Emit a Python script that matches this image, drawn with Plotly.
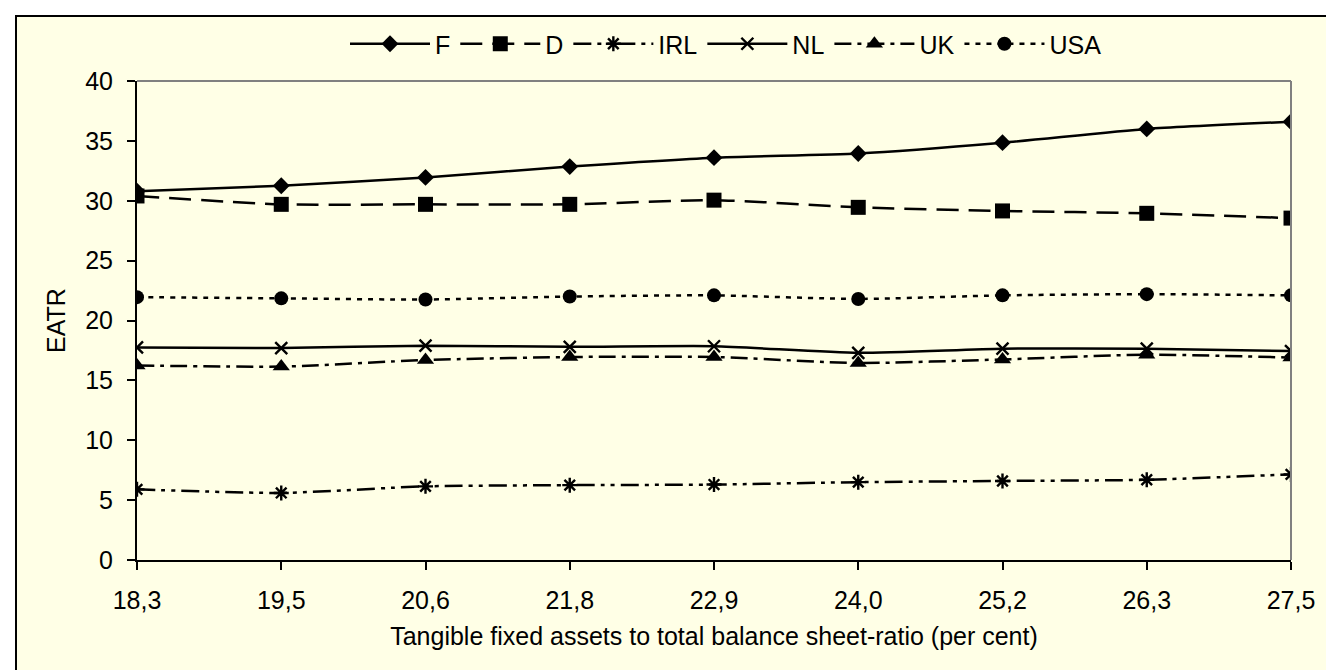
import plotly.graph_objects as go

categories = ["18,3", "19,5", "20,6", "21,8", "22,9", "24,0", "25,2", "26,3", "27,5"]
F = [30.8, 31.25, 31.95, 32.85, 33.6, 33.95, 34.85, 36.0, 36.6]
D = [30.4, 29.7, 29.7, 29.7, 30.05, 29.45, 29.15, 28.95, 28.55]
IRL = [5.9, 5.6, 6.15, 6.25, 6.3, 6.5, 6.6, 6.7, 7.15]
NL = [17.75, 17.7, 17.9, 17.8, 17.85, 17.3, 17.65, 17.65, 17.45]
UK = [16.25, 16.15, 16.7, 16.95, 16.95, 16.45, 16.75, 17.15, 16.9]
USA = [21.95, 21.85, 21.75, 22.0, 22.1, 21.8, 22.1, 22.2, 22.1]

y_ticks = [0, 5, 10, 15, 20, 25, 30, 35, 40]

BG = "#FFFFE6"
FONT = "Liberation Sans, Arial, sans-serif"

W, H = 1334, 670
L, R, T, B = 129, 51, 73, 118
pw, ph = W - L - R, H - T - B

def px_x(p):
    return (p - L) / pw

def px_y(p):
    return (H - B - p) / ph

series = [
    ("F", F, "solid", "diamond", 13),
    ("D", D, "22px,10px", "square", 15),
    ("IRL", IRL, "18px,6px,4px,6px,4px,6px", "asterisk-open", 12.5),
    ("NL", NL, "solid", "x-thin-open", 12),
    ("UK", UK, "17px,6px,4px,6px", "triangle-up", 15),
    ("USA", USA, "5px,6px", "circle", 14),
]

fig = go.Figure()
for name, vals, dash, sym, size in series:
    open_sym = sym.endswith("open")
    fig.add_trace(go.Scatter(
        x=categories, y=vals, name=name, mode="lines+markers",
        line=dict(color="black", width=2.5, dash=dash, shape="spline", smoothing=0.6),
        marker=dict(symbol=sym, size=size, color="black",
                    line=dict(color="black", width=2.4 if open_sym else 0)),
    ))

fig.update_layout(
    width=W, height=H,
    margin=dict(l=L, r=R, t=T, b=B),
    paper_bgcolor="white",
    plot_bgcolor=BG,
    font=dict(family=FONT, size=25, color="black"),
    showlegend=True,
    legend=dict(
        orientation="h", x=px_x(718), y=px_y(36), xanchor="center", yanchor="middle",
        font=dict(size=25), itemwidth=80, bgcolor="rgba(0,0,0,0)",
        tracegroupgap=0,
    ),
    xaxis=dict(
        type="category", range=[0, 8], showline=True, linecolor="black", linewidth=2,
        ticks="outside", ticklen=8, tickwidth=1.5, tickcolor="black",
        showgrid=False, zeroline=False, ticklabelstandoff=9,
        title=dict(text="Tangible fixed assets to total balance sheet-ratio (per cent)",
                   font=dict(size=25), standoff=14),
        tickfont=dict(size=25),
    ),
    yaxis=dict(
        range=[0, 40], tickvals=y_ticks, showline=True, linecolor="black", linewidth=2,
        ticks="outside", ticklen=8, tickwidth=1.5, tickcolor="black",
        showgrid=False, zeroline=False, ticklabelstandoff=9,
        title=dict(text="EATR", font=dict(size=25), standoff=12),
        tickfont=dict(size=25),
    ),
    shapes=[
        dict(type="rect", xref="paper", yref="paper", layer="below",
             x0=px_x(8), x1=px_x(1330), y0=px_y(675), y1=px_y(8),
             fillcolor=BG, line=dict(color="black", width=2)),
        dict(type="line", xref="paper", yref="paper", x0=0, x1=1, y0=1, y1=1,
             line=dict(color="#808080", width=2)),
        dict(type="line", xref="paper", yref="paper", x0=1, x1=1, y0=0, y1=1,
             line=dict(color="#808080", width=2)),
    ],
)

fig.write_html("out.html")
